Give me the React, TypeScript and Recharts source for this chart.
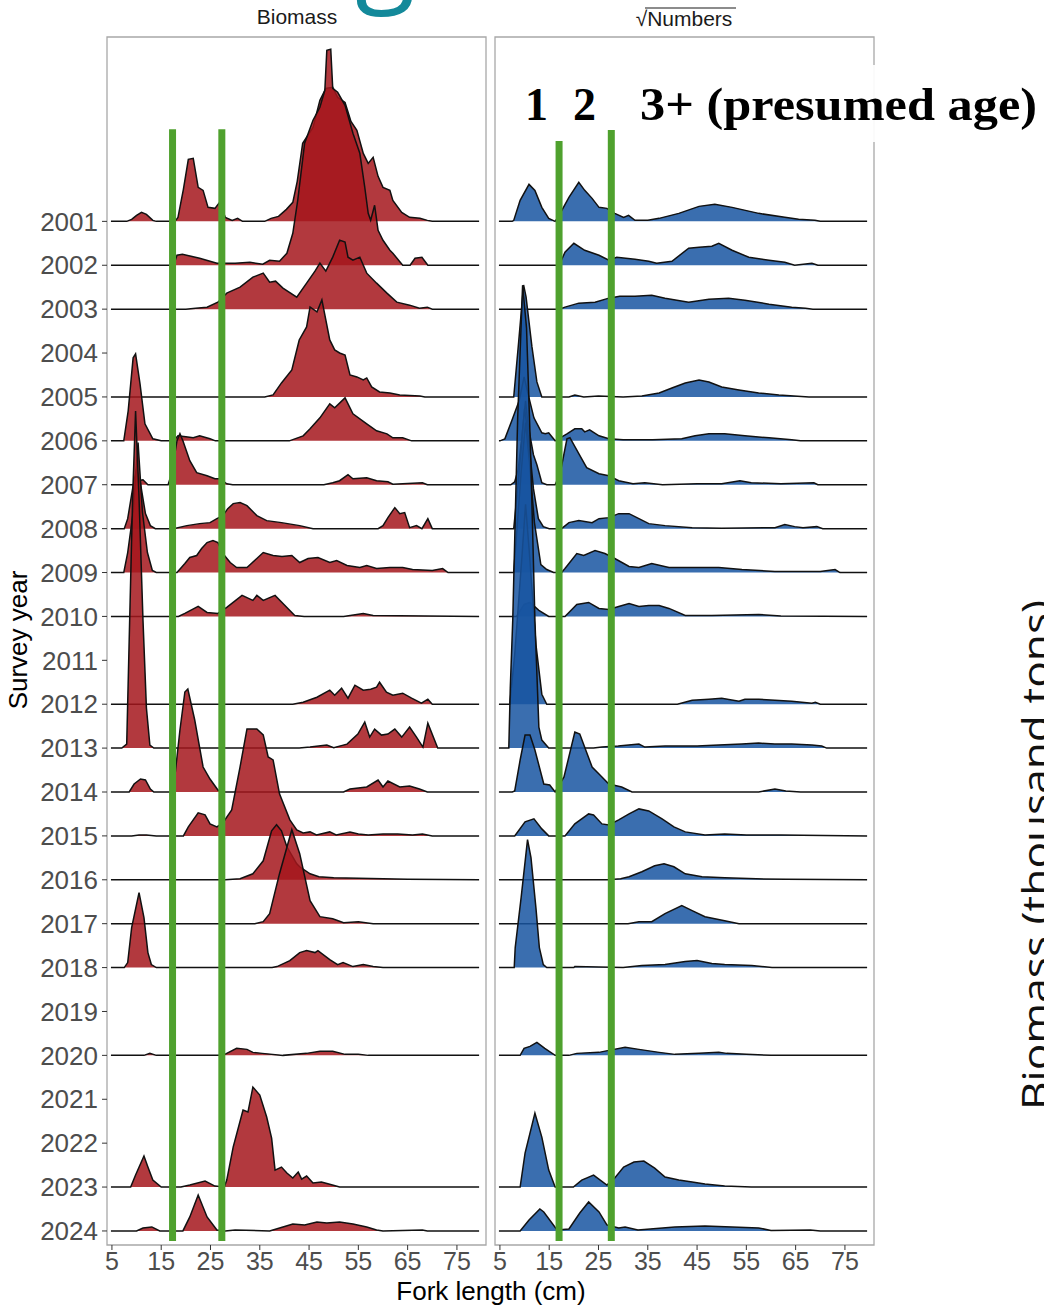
import React from "react";
import { ComposedChart, Area, Line, XAxis, YAxis, ReferenceArea } from "recharts";

type Pt = [number, number];

const years = [
  2001, 2002, 2003, 2004, 2005, 2006, 2007, 2008, 2009, 2010, 2011, 2012,
  2013, 2014, 2015, 2016, 2017, 2018, 2019, 2020, 2021, 2022, 2023, 2024,
];
const lengthTicks = [5, 15, 25, 35, 45, 55, 65, 75];
const ageCutsBiomass = [17.3, 27.3];
const ageCutsNumbers = [17.0, 27.6];
const ageLabels = ["1", "2", "3+ (presumed age)"];
const panelTitles = ["Biomass", "Numbers"];

// ridge heights, relative density (one row spacing = 43.9)
const b2001: Pt[] = [[4.8,0],[8,0],[9,2],[10,6],[11,9],[12,7],[13.3,1],[14,0],[17.8,0],[18.4,4],[19.5,32],[20.5,62],[21.5,63],[22.5,34],[23.5,31],[24.5,14],[25.9,13],[26.7,18],[27.3,13],[28,4],[29.4,1],[30.5,3],[31.5,0],[36,0],[37.3,3],[38.8,5],[40.4,12],[41.7,19],[42.6,40],[43.7,78],[45.8,94],[47.2,121],[48.4,133],[49.8,134],[50.8,124],[52.3,119],[53.5,100],[54.7,91],[56,68],[57,58],[58,64],[59,45],[60,34],[61.4,31],[62,21],[63.8,9],[65.4,4],[67.5,3],[69,1],[70,0],[79.5,0]];
const b2002: Pt[] = [[4.8,0],[17.5,0],[18.2,10],[19.3,11],[22.8,7],[26.3,2],[30,2],[33,3],[35.6,1],[37,5],[39,4],[40.5,12],[41.7,32],[42.7,65],[44.1,122],[45.8,145],[47.2,158],[48.2,175],[48.6,215],[49.4,216],[49.8,177],[50.8,173],[52.3,160],[53.9,132],[55.3,112],[56.3,78],[57,52],[57.5,45],[58.3,60],[59,35],[60,25],[61.4,15],[62,12],[64,0],[65.5,0],[66.5,7],[67.9,8],[69.1,0],[79.5,0]];
const b2003: Pt[] = [[4.8,0],[20,0],[22,1],[24.3,2],[26.5,7],[28.3,16],[31,22],[33.6,32],[35.7,36],[37,27],[38.2,28],[39.7,21],[42.5,12],[44.5,26],[46.2,38],[47.2,46],[48.4,38],[49.8,52],[51.2,69],[52.3,67],[52.9,52],[53.9,49],[55.3,52],[56.7,36],[58.7,26],[60.8,16],[62.8,7],[65.4,4],[67.4,1],[69,2],[70,0],[79.5,0]];
const b2005: Pt[] = [[4.8,0],[36,0],[37.7,2],[39.4,14],[41.5,27],[43,57],[44.5,70],[45.2,90],[46.6,85],[47.6,97],[49.2,57],[50.2,47],[51.2,44],[52.3,42],[53.3,22],[54.7,20],[56,17],[56.7,19],[57.7,10],[59.3,5],[61.4,4],[63.4,2],[67.5,1],[68.5,0],[79.5,0]];
const b2006: Pt[] = [[4.8,0],[7.4,0],[8.3,30],[9.3,83],[9.8,87],[10.7,57],[11.7,17],[13.3,2],[15,0],[17.5,0],[18.4,5],[20,4],[21.5,3],[22.8,5],[24.9,2],[26,0],[41,0],[43.8,5],[45.2,12],[47.2,23],[49.2,37],[50.2,33],[52.3,43],[53.9,27],[56.7,17],[58.7,10],[60.8,7],[62,3],[64,3],[65.8,0],[79.5,0]];
const b2007: Pt[] = [[4.8,0],[9.3,0],[10.3,4],[11.3,5],[12.3,0],[16.4,0],[17.1,11],[18.2,44],[18.8,51],[19.4,44],[20.8,24],[22.2,12],[24.3,9],[25.9,6],[26.9,6],[28.3,1],[29.5,0],[48,0],[49.8,2],[51.2,4],[52.9,10],[53.9,6],[56.7,7],[58.7,4],[61,3],[62,0.5],[64,1],[68,2],[69,0],[79.5,0]];
const b2008: Pt[] = [[4.8,0],[7.5,0],[8.2,10],[9.2,40],[10,60],[10.8,45],[11.8,15],[12.8,3],[13.8,0],[17.5,0],[20.2,3],[22.8,5],[24.9,6],[26.3,10],[27.5,13],[28.5,20],[29.6,25],[31,26],[32.4,23],[34.4,13],[36.4,8],[39.4,6],[43.1,3],[45.8,0],[59,0],[60,3],[61,11],[62.4,21],[63.4,15],[64.4,16],[65.4,1],[66.8,3],[67.9,0],[69.1,10],[70,0],[79.5,0]];
const b2009: Pt[] = [[4.8,0],[7.4,0],[8.2,20],[9.3,60],[10.3,130],[11.2,60],[12.2,20],[13.2,2],[14,0],[18.2,0],[19.8,9],[20.8,15],[22.2,17],[23.2,24],[24.3,30],[25.5,32],[26.5,30],[27.5,19],[29,10],[30.3,5],[32.4,5],[34.4,14],[35.7,20],[37.7,17],[39.5,16],[41.5,17],[43.1,10],[44.8,14],[46.8,15],[49.2,10],[50.6,12],[52.7,7],[55.3,5],[56.7,7],[58.7,4],[61.4,5],[64,5],[66,3],[70,2],[72.1,4],[73.2,0],[79.5,0]];
const b2010: Pt[] = [[4.8,0],[18.5,0],[19.8,3],[22.5,10],[24.3,4],[26.5,3],[28.3,9],[31.4,21],[33.6,16],[34.4,21],[35.7,16],[38.1,21],[40.5,9],[42.1,1],[44,0],[52,0],[56,3],[58,1],[79.5,0]];
const b2012: Pt[] = [[4.8,0],[41.7,0],[43.8,2],[46.6,7],[49.2,14],[50.2,9],[51.6,16],[52.9,6],[54.3,19],[56,14],[57.5,15],[58.7,17],[59.3,22],[60.7,12],[62,9],[64,11],[65.8,6],[67.8,1],[69.1,5],[70,0],[79.5,0]];
const b2013: Pt[] = [[4.8,0],[7,0],[8,4],[8.6,128],[9.2,250],[9.8,337],[10.5,250],[11.3,128],[12,40],[12.7,3],[13.5,0],[43,0],[45.2,1],[48.6,3],[50,0.5],[52.7,4],[54.9,14],[56.3,26],[57.3,11],[58.3,19],[59.7,13],[61,14],[62.4,19],[63.8,11],[65.4,21],[66.8,11],[68.1,1],[69.1,25],[71.1,0],[79.5,0]];
const b2014: Pt[] = [[4.8,0],[8.5,0],[9.5,8],[10.8,13],[11.8,12],[12.8,3],[13.5,0],[17.2,0],[17.8,17],[18.8,62],[19.8,100],[20.4,103],[21.8,72],[23.5,25],[24.9,13],[26.5,2],[28,0],[52,0],[53.3,3],[56.7,5],[59,12],[60,5],[61,11],[63.4,5],[65.4,6],[67.4,3],[69,0],[79.5,0]];
const b2015: Pt[] = [[4.8,0],[9,0],[10.5,1],[12,1],[14,0],[19.5,0],[20.5,9],[22.5,23],[23.9,21],[24.9,12],[26.3,9],[27.5,13],[29.3,26],[31,69],[32.4,107],[34.4,107],[35.7,101],[36.7,79],[37.7,76],[39,42],[41.1,16],[42.5,6],[43.8,3],[45.2,4],[46.5,1],[49.2,4],[50.5,1],[53.3,4],[55,2],[57,1],[60,2],[63,2],[66,1],[68,2],[70,0],[79.5,0]];
const b2016: Pt[] = [[4.8,0],[28,0],[31,1],[33.6,6],[35.7,19],[37.4,49],[38.4,55],[39.4,49],[40.5,33],[42.5,16],[43.1,13],[45.2,6],[47,3],[50,2],[55,1.5],[60,1],[65,0.5],[79.5,0]];
const b2017: Pt[] = [[4.8,0],[34,0],[35.7,2],[37,10],[39,50],[41.5,94],[43.1,70],[45.2,23],[47.2,7],[49.8,5],[52,1],[55,2],[58,0],[79.5,0]];
const b2018: Pt[] = [[4.8,0],[7.5,0],[8.2,5],[9,40],[10.5,75],[11.5,50],[12.3,15],[13,3],[14,0],[37.5,0],[38.5,1],[41.1,7],[43.1,15],[44.5,17],[46.2,15],[46.8,17],[49.2,8],[50.8,3],[51.9,5],[53.9,1],[56,3],[58,1],[60,0],[79.5,0]];
const b2020: Pt[] = [[4.8,0],[11.5,0],[12.7,2],[14,0],[27.5,0],[28.3,2],[30.3,7],[32.4,6],[33.6,3],[35.5,2],[39.7,0],[44.5,2],[47.2,4],[49.8,4],[52.3,1],[55,1],[57,0],[79.5,0]];
const b2023: Pt[] = [[4.8,0],[8.8,0],[9.8,12],[11.5,31],[12.3,20],[13.3,7],[15,0],[19,0],[20.8,2],[23.9,6],[25.9,1],[27.8,0],[28.3,7],[29.6,40],[31.6,77],[32.6,75],[33.6,100],[35,92],[36.4,70],[37.4,49],[38.1,17],[39.4,20],[40.5,14],[41.7,9],[42.8,15],[43.5,8],[44.5,11],[45.8,4],[47.5,5],[49,3],[51.2,0],[79.5,0]];
const b2024: Pt[] = [[4.8,0],[10,0],[11.3,3],[13.1,4],[14.7,0],[19.4,0],[20.8,14],[22.5,36],[24.3,14],[26.3,1],[28,0],[30,1],[37,0],[39.7,4],[41.7,7],[44.1,6],[46.6,9],[48.6,8],[51.2,9],[53.9,7],[56.7,4],[58.7,1],[60,0],[68,1],[69,0],[79.5,0]];

const n2001: Pt[] = [[4.8,0],[7.5,0],[7.8,1],[9.1,21],[10.9,37],[12.1,31],[13.5,14],[14.9,3],[16.2,0],[17,6],[19,24],[21,39],[22.2,31],[23.7,23],[25.1,14],[26.7,13],[28.3,8],[30.1,4],[31.1,6],[32.4,1],[35,1],[37.3,3],[41.3,8],[45.4,15],[48.6,17],[52.1,14],[57.5,8],[62.8,4],[65.6,2],[68.9,1],[70,0],[79.5,0]];
const n2002: Pt[] = [[4.8,0],[17,0],[18.2,13],[20,22],[22.2,15],[25.1,10],[27.1,5],[28.7,8],[32.4,6],[35.2,4],[36.8,2],[39.9,4],[43.3,17],[45.4,18],[48,19],[49.4,22],[52.1,15],[55.5,8],[59.6,5],[62.8,3],[64.8,0],[68.3,2],[69.5,0],[79.5,0]];
const n2003: Pt[] = [[4.8,0],[17,0],[18.2,2],[21,6],[24.3,7],[27.1,11],[29.3,13],[32.4,13],[35.8,14],[38.5,11],[43.3,7],[47.4,10],[51.4,11],[54.7,9],[59.6,5],[64.2,2],[67,1],[68.5,0],[79.5,0]];
const n2005: Pt[] = [[4.8,0],[7.8,0],[8.8,55],[9.8,112],[10.3,100],[11.5,50],[12.5,15],[13.5,0],[19,0],[20.2,2],[22,0],[25,1],[30,0],[33.8,1],[37.3,4],[39.9,9],[42.6,14],[45.4,17],[47.4,15],[50,10],[53.5,7],[57.5,4],[61.6,2],[67.7,0],[79.5,0]];
const n2006: Pt[] = [[4.8,0],[5,0],[6,2],[7.4,20],[8.9,40],[9.9,64],[10.8,45],[11.9,23],[13.5,8],[14.2,7],[14.9,8],[16.2,0],[18.6,7],[20.2,12],[21.6,12],[22.2,9],[23.2,11],[25.1,5],[27.1,2],[30,1],[36,1],[41.9,2],[44.6,5],[47.4,7],[50.6,7],[54.7,5],[59.6,3],[64.2,1],[66,0],[79.5,0]];
const n2007: Pt[] = [[4.8,0],[7.2,0],[8,3],[8.7,15],[9.5,50],[10.2,84],[10.7,60],[11.8,30],[12.5,20],[13.5,2],[14.5,0],[16.2,0],[17.2,11],[18.6,46],[19.2,47],[21,31],[22.6,17],[25.1,11],[27.1,9],[29.1,4],[32,1],[34.4,2],[38,0],[45,1],[50,1],[53.7,4],[56,2],[62,1],[68.7,2],[69.5,0],[79.5,0]];
const n2008: Pt[] = [[4.8,0],[7.8,0],[8.4,30],[9.3,80],[10,120],[10.8,90],[11.8,40],[12.8,10],[13.8,2],[15,0],[17.5,0],[19,6],[21,8],[23.7,6],[25.1,10],[27.1,11],[29.1,15],[31.2,15],[33.2,10],[35.2,5],[38.5,3],[44,1],[50,0.5],[60.8,1],[62.8,4],[64.8,2],[66.5,1],[69.3,2],[70.5,0],[79.5,0]];
const n2009: Pt[] = [[4.8,0],[7.8,0],[8.4,40],[9.3,100],[10.2,150],[11,110],[12,50],[13.3,8],[14.5,3],[15.9,0],[17.5,0],[18.2,4],[20.6,19],[22,17],[24.3,22],[26.3,19],[28.3,14],[31.2,6],[33.2,5],[35.8,9],[39.3,5],[44,5],[49.4,5],[54.1,3],[60.8,1],[70,1],[73,3],[74,0],[79.5,0]];
const n2010: Pt[] = [[4.8,0],[8.4,0],[9.9,12],[11.1,14],[12.9,6],[14.9,0],[18.2,0],[20.6,12],[23,14],[25.1,8],[27.1,7],[29.1,10],[31.2,13],[33.2,10],[35.2,11],[37.3,11],[39.3,8],[42.6,1],[48,1],[57.5,2],[62,0.5],[79.5,0]];
const n2012: Pt[] = [[4.8,0],[7,0],[8,50],[9.5,150],[10.2,200],[11,150],[12.3,60],[13.5,10],[14.5,0],[41,0],[44,4],[47.4,5],[50,6],[53.5,3],[54.7,5],[57.5,5],[60.8,4],[64.2,3],[68.3,1],[69,2],[70,0],[79.5,0]];
const n2013: Pt[] = [[4.8,0],[6.8,0],[7.1,60],[7.6,128],[8.6,330],[9.6,463],[10.4,420],[11.2,300],[12.1,128],[12.9,21],[13.5,8],[14.9,0],[24,0],[25.7,1],[29,2],[33.2,4],[34.4,1],[38.5,2],[45,2],[49.4,3],[54.1,4],[57.5,5],[60.8,4],[64.2,4],[68.3,3],[70.3,2],[71.3,0],[79.5,0]];
const n2014: Pt[] = [[4.8,0],[7.5,0],[8,1],[9.1,32],[10.1,57],[11.1,57],[12.1,42],[13.9,8],[15.1,7],[16.2,0],[18,15],[20.2,60],[21.2,58],[23.7,25],[25.1,18],[27.1,8],[29.7,5],[31.8,0],[57.5,0],[60.8,3],[63,1],[66,0],[79.5,0]];
const n2015: Pt[] = [[4.8,0],[8,0],[10.1,14],[11.9,17],[13.5,7],[14.9,0],[18.2,0],[20.2,12],[23,22],[24,21],[25.7,12],[27.1,11],[29.1,16],[31.2,22],[33.2,27],[35.2,25],[37.9,17],[40.3,9],[42.6,4],[46.6,1],[50.6,2],[55,1],[62,1],[79.5,0]];
const n2016: Pt[] = [[4.8,0],[27,0],[29.5,1],[31.2,3],[33.8,8],[36.4,14],[38.3,16],[40.3,13],[42.6,6],[46,3],[50.6,2],[57,1],[63,0.5],[79.5,0]];
const n2017: Pt[] = [[4.8,0],[31,0],[33.2,2],[35.8,2],[38.5,10],[41.9,18],[44,13],[46.6,7],[50.6,3],[53.5,0],[79.5,0]];
const n2018: Pt[] = [[4.8,0],[7.9,0],[8.1,20],[9.3,70],[10.6,128],[11.3,110],[12.3,60],[13,20],[13.8,3],[14.5,0],[20,0],[20.2,1],[30,0],[33.8,2],[38.5,3],[42.6,6],[45,7],[48,4],[50.6,3],[56.1,2],[60.2,0],[79.5,0]];
const n2020: Pt[] = [[4.8,0],[9.1,0],[9.9,7],[11.1,9],[12.5,13],[14.1,7],[16.2,0],[19,0],[20.6,2],[25.1,3],[27.1,5],[30.4,8],[33.2,6],[37.3,3],[40.5,1],[45.4,2],[49.4,3],[51,2],[55,1],[60,0],[79.5,0]];
const n2023: Pt[] = [[4.8,0],[9.1,0],[10.1,34],[12.1,74],[13.5,50],[14.9,17],[16.2,0],[19.9,0],[21.6,7],[24,12],[26.7,2],[28.3,9],[30.1,20],[32.2,25],[34.2,26],[36.4,19],[38.5,10],[41.3,7],[44,5],[46.6,3],[50.6,1],[56,0],[79.5,0]];
const n2024: Pt[] = [[4.8,0],[9.1,0],[10.9,11],[13.1,22],[13.9,19],[16.6,1],[19,2],[21.2,18],[23,29],[25.1,19],[26.7,6],[29.1,3],[30.4,4],[33,1],[40.5,4],[46.6,5],[52.1,4],[57.5,3],[60,0.5],[68,1],[70,0],[79.5,0]];

const biomassRidges: [number, Pt[]][] = [
  [2001, b2001], [2002, b2002], [2003, b2003], [2005, b2005], [2006, b2006],
  [2007, b2007], [2008, b2008], [2009, b2009], [2010, b2010], [2012, b2012],
  [2013, b2013], [2014, b2014], [2015, b2015], [2016, b2016], [2017, b2017],
  [2018, b2018], [2020, b2020], [2023, b2023], [2024, b2024],
];
const numbersRidges: [number, Pt[]][] = [
  [2001, n2001], [2002, n2002], [2003, n2003], [2005, n2005], [2006, n2006],
  [2007, n2007], [2008, n2008], [2009, n2009], [2010, n2010], [2012, n2012],
  [2013, n2013], [2014, n2014], [2015, n2015], [2016, n2016], [2017, n2017],
  [2018, n2018], [2020, n2020], [2023, n2023], [2024, n2024],
];

const LAST_YEAR = years[years.length - 1];
const RIDGE_UNIT = 43.9;
const X_DOMAIN: [number, number] = [4.0, 80.9];
const Y_DOMAIN: [number, number] = [-0.32, 27.2];
const FONT = "'Liberation Sans', Arial, sans-serif";
const rowTicks = years.map((y) => LAST_YEAR - y);

function Panel(props: {
  ridges: [number, Pt[]][];
  fill: string;
  cuts: number[];
  cutTops: number[];
  showYears: boolean;
  left: number;
  width: number;
  yAxisWidth: number;
  marginRight: number;
}) {
  const { ridges, fill, cuts, cutTops, showYears, left, width, yAxisWidth, marginRight } = props;
  return (
    <div style={{ position: "absolute", left, top: 0 }}>
      <ComposedChart
        width={width}
        height={1307}
        margin={{ top: 37, right: marginRight, bottom: 32, left: 0 }}
      >
        <XAxis
          dataKey="x"
          type="number"
          domain={X_DOMAIN}
          ticks={lengthTicks}
          interval={0}
          allowDataOverflow
          axisLine={false}
          tickSize={5}
          tickLine={{ stroke: "#333" }}
          tick={{ fill: "#4d4d4d", fontSize: 25, fontFamily: FONT }}
          height={30}
        />
        <YAxis
          type="number"
          domain={Y_DOMAIN}
          ticks={rowTicks}
          interval={0}
          allowDataOverflow
          width={yAxisWidth}
          axisLine={false}
          tickSize={5}
          tickMargin={4}
          tickLine={{ stroke: "#333" }}
          tick={showYears ? { fill: "#4d4d4d", fontSize: 26, fontFamily: FONT } : false}
          tickFormatter={(v: number) => String(LAST_YEAR - v)}
        />
        <ReferenceArea
          x1={X_DOMAIN[0]}
          x2={X_DOMAIN[1]}
          y1={Y_DOMAIN[0]}
          y2={Y_DOMAIN[1]}
          fill="none"
          stroke="#a8a8a8"
          strokeWidth={1.3}
          ifOverflow="visible"
        />
        {ridges.map(([year, pts]) => {
          const base = LAST_YEAR - year;
          return (
            <Area
              key={year}
              data={pts.map(([x, h]) => ({ x, y: base + h / RIDGE_UNIT }))}
              dataKey="y"
              baseValue={base}
              type="linear"
              stroke="#111"
              strokeWidth={1.5}
              fill={fill}
              fillOpacity={0.85}
              dot={false}
              activeDot={false}
              isAnimationActive={false}
            />
          );
        })}
        {cuts.map((c, i) => (
          <Line
            key={"cut" + i}
            data={[
              { x: c, y: -0.23 },
              { x: c, y: cutTops[i] },
            ]}
            dataKey="y"
            stroke="#4fa12e"
            strokeWidth={7}
            dot={false}
            activeDot={false}
            isAnimationActive={false}
          />
        ))}
      </ComposedChart>
    </div>
  );
}

export default function App() {
  const agePos = [525, 573, 640];
  return (
    <div
      style={{
        position: "absolute",
        left: 0,
        top: 0,
        width: 1044,
        height: 1307,
        background: "#fff",
        overflow: "hidden",
        fontFamily: FONT,
      }}
    >
      <Panel
        ridges={biomassRidges}
        fill="#a5161c"
        cuts={ageCutsBiomass}
        cutTops={[25.1, 25.1]}
        showYears
        left={0}
        width={490}
        yAxisWidth={107}
        marginRight={4}
      />
      <Panel
        ridges={numbersRidges}
        fill="#1855a1"
        cuts={ageCutsNumbers}
        cutTops={[24.83, 25.08]}
        showYears={false}
        left={488}
        width={392}
        yAxisWidth={7}
        marginRight={6}
      />
      <svg
        width={1044}
        height={1307}
        style={{ position: "absolute", left: 0, top: 0, pointerEvents: "none" }}
      >
        <text x={385} y={-9} fontSize={110} fontFamily="'Open Sans', sans-serif" fill="#13899a" textAnchor="middle">
          g
        </text>
        <text x={297} y={24} fontSize={21} fill="#1a1a1a" textAnchor="middle" fontFamily={FONT}>
          {panelTitles[0]}
        </text>
        <text x={684} y={26} fontSize={21} fill="#1a1a1a" textAnchor="middle" fontFamily={FONT}>
          {"\u221A" + panelTitles[1]}
        </text>
        <line x1={645} x2={736} y1={8} y2={8} stroke="#1a1a1a" strokeWidth={1.2} />
        <text
          transform="rotate(-90)"
          x={-640}
          y={27}
          fontSize={26}
          textAnchor="middle"
          fill="#000"
          fontFamily={FONT}
        >
          Survey year
        </text>
        <text x={491} y={1300} fontSize={26} textAnchor="middle" fill="#000" fontFamily={FONT}>
          Fork length (cm)
        </text>
        <rect x={620} y={65} width={424} height={77} fill="#fff" opacity={0.92} />
        {ageLabels.map((t, i) => (
          <text
            key={t}
            x={agePos[i]}
            y={120}
            fontSize={46}
            fontWeight="bold"
            fontFamily="'Liberation Serif', 'DejaVu Serif', serif"
            fill="#000"
            textLength={i === 2 ? 397 : undefined}
            lengthAdjust="spacingAndGlyphs"
          >
            {t}
          </text>
        ))}
        <text
          transform="rotate(-90)"
          x={-855}
          y={1050}
          fontSize={38}
          textAnchor="middle"
          fill="#111"
          fontFamily="'Open Sans', sans-serif"
          textLength={510}
          lengthAdjust="spacingAndGlyphs"
        >
          Biomass (thousand tons)
        </text>
      </svg>
    </div>
  );
}
